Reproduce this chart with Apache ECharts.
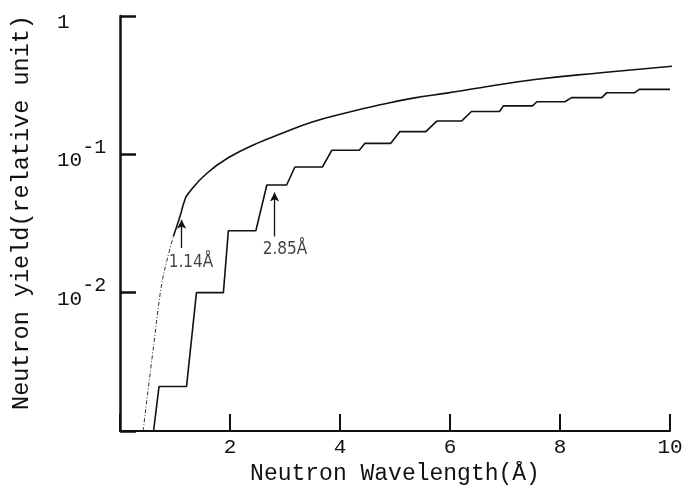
<!DOCTYPE html>
<html>
<head>
<meta charset="utf-8">
<script src="https://cdn.jsdelivr.net/npm/echarts@6/dist/echarts.min.js"></script>
<style>
  html, body { margin: 0; padding: 0; background: #fff; }
  #chart { width: 692px; height: 488px; }
</style>
</head>
<body>
<div id="chart"></div>
<script>
// upper curve, dash-dot part at short wavelengths
const upperDashX = [0.42, 0.61, 0.77, 0.97];
const upperDashY = [0.001, 0.0041, 0.0123, 0.0255];
// upper curve, solid part
const upperX = [0.97, 1.09, 1.18, 1.24, 1.58, 2.0, 2.49, 2.91, 3.51, 4.12, 4.73, 5.33, 5.94, 6.55, 7.58, 8.79, 10.15];
const upperY = [0.0255, 0.0355, 0.047, 0.052, 0.073, 0.096, 0.12, 0.14, 0.172, 0.2, 0.228, 0.255, 0.277, 0.303, 0.349, 0.39, 0.438];
// staircase curve (corner points)
const stepX = [0.61, 0.71, 1.21, 1.39, 1.88, 1.97, 2.47, 2.67, 3.03, 3.18, 3.68, 3.85, 4.35, 4.45, 4.92, 5.09, 5.56, 5.76, 6.21, 6.39, 6.90, 6.97, 7.50, 7.58, 8.09, 8.21, 8.76, 8.85, 9.36, 9.44, 10.0];
const stepY = [0.001, 0.0021, 0.0021, 0.01, 0.01, 0.028, 0.028, 0.06, 0.06, 0.081, 0.081, 0.107, 0.107, 0.12, 0.12, 0.146, 0.146, 0.174, 0.174, 0.204, 0.204, 0.224, 0.224, 0.24, 0.24, 0.257, 0.257, 0.279, 0.279, 0.295, 0.295];
// annotations: arrow from -> to, and text
const noteText = ['1.14Å', '2.85Å'];
const noteArrowX = [1.12, 2.81];
const noteArrowFrom = [0.021, 0.0255];
const noteArrowTo = [0.0336, 0.053];
const noteTextX = [1.29, 3.0];
const noteTextY = [0.0165, 0.0204];
// tick labels
const xTicks = [2, 4, 6, 8, 10];
const yTickLabels = { '1': '{b|1}', '0.1': '{b|10}{s|-1}', '0.01': '{b|10}{s|-2}' };

const mono = '"Liberation Mono", "DejaVu Sans Mono", monospace';
const ink = '#111';

const zip = (xs, ys) => xs.map((x, i) => [x, ys[i]]);

const chart = echarts.init(document.getElementById('chart'));

const option = {
  animation: false,
  backgroundColor: '#fff',
  grid: { left: 120, right: 22, top: 16, bottom: 57, outerBoundsMode: 'none', containLabel: false },
  xAxis: {
    type: 'value',
    min: 0,
    max: 10,
    interval: 2,
    name: 'Neutron Wavelength(Å)',
    nameLocation: 'middle',
    nameGap: 22,
    nameTextStyle: { fontFamily: mono, fontSize: 23, color: ink },
    axisLine: { lineStyle: { color: ink, width: 2 } },
    axisTick: { inside: true, length: 17, lineStyle: { color: ink, width: 2 } },
    axisLabel: {
      margin: 6,
      fontFamily: mono,
      fontSize: 21,
      color: ink,
      formatter: v => (xTicks.indexOf(v) >= 0 ? String(v) : '')
    },
    splitLine: { show: false }
  },
  yAxis: {
    type: 'log',
    logBase: 10,
    min: 0.001,
    max: 1,
    name: 'Neutron yield(relative unit)',
    nameLocation: 'middle',
    nameGap: 86,
    nameTextStyle: { fontFamily: mono, fontSize: 23.5, color: ink, padding: [0, 0, 0, 22] },
    axisLine: { lineStyle: { color: ink, width: 2.5 } },
    axisTick: { inside: true, length: 16, lineStyle: { color: ink, width: 2.5 } },
    axisLabel: {
      align: 'left',
      margin: 63,
      color: ink,
      formatter: v => {
        const key = String(+v.toPrecision(3));
        return yTickLabels[key] || '';
      },
      rich: {
        b: { fontFamily: mono, fontSize: 21, color: ink, lineHeight: 34, verticalAlign: 'bottom' },
        s: { fontFamily: mono, fontSize: 20, color: ink, lineHeight: 34, verticalAlign: 'top' }
      }
    },
    splitLine: { show: false },
    minorTick: { show: false }
  },
  series: [
    {
      type: 'line',
      data: zip(upperDashX, upperDashY),
      showSymbol: false,
      smooth: 0.3,
      lineStyle: { color: '#333', width: 1, type: [4, 2, 1, 2] }
    },
    {
      type: 'line',
      data: zip(upperX, upperY),
      showSymbol: false,
      smooth: 0.5,
      clip: false,
      lineStyle: { color: ink, width: 1.6 }
    },
    {
      type: 'line',
      data: zip(stepX, stepY),
      showSymbol: false,
      lineStyle: { color: ink, width: 1.6 }
    },
    {
      type: 'scatter',
      symbolSize: 0,
      data: zip(noteTextX, noteTextY),
      label: {
        show: true,
        position: 'inside',
        formatter: p => noteText[p.dataIndex],
        fontFamily: '"Liberation Sans Narrow", "DejaVu Sans Condensed", sans-serif',
        fontSize: 17,
        color: ink
      },
      markLine: {
        silent: true,
        symbol: ['none', 'arrow'],
        symbolSize: [7, 9],
        label: { show: false },
        lineStyle: { color: ink, width: 1.3, type: 'solid' },
        data: noteArrowX.map((x, i) => [
          { coord: [x, noteArrowFrom[i]] },
          { coord: [x, noteArrowTo[i]] }
        ])
      }
    }
  ]
};

chart.setOption(option);
</script>
</body>
</html>
